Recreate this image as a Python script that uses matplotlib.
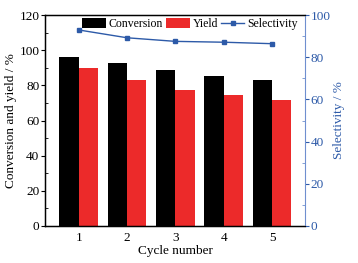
import matplotlib.pyplot as plt
import numpy as np

plt.rcParams['font.family'] = ['Liberation Serif', 'DejaVu Serif']
plt.rcParams['font.size'] = 9.5

# data
cycles = [1, 2, 3, 4, 5]
conversion = [96.3, 92.5, 88.5, 85.3, 83.0]
yield_pct = [89.7, 82.9, 77.2, 74.3, 71.7]
selectivity = [92.9, 89.2, 87.5, 87.1, 86.4]

blue = "#2d5aa8"
spine_blue = "#6f8fcf"

fig = plt.figure(figsize=(3.58, 2.63), dpi=100)
ax1 = fig.add_axes([45 / 358, 37 / 263, 260 / 358, 211 / 263])
ax2 = ax1.twinx()

x = np.array(cycles)
w = 0.4
b1 = ax1.bar(x - w / 2, conversion, w, color="black", label="Conversion")
b2 = ax1.bar(x + w / 2, yield_pct, w, color="#ec2a2a", label="Yield")
l1, = ax2.plot(x, selectivity, "-s", color=blue, markersize=3.5,
               linewidth=1.0, label="Selectivity")

ax1.set_xlim(0.3, 5.68)
ax1.set_ylim(0, 120)
ax2.set_ylim(0, 100)
ax1.set_xticks(cycles)
ax1.set_yticks(range(0, 121, 20))
ax1.set_yticks(range(10, 120, 20), minor=True)
ax2.set_yticks(range(0, 101, 20))
ax2.set_yticks(range(10, 100, 20), minor=True)

ax1.tick_params(axis="x", length=0, pad=4)
ax1.tick_params(axis="y", which="major", direction="out", length=3, pad=1)
ax1.tick_params(axis="y", which="minor", direction="in", length=2)
ax2.tick_params(axis="y", which="major", direction="out", length=3, pad=1,
                colors=blue)
ax2.tick_params(axis="y", which="minor", direction="in", length=2,
                colors=spine_blue)
ax2.spines["right"].set_color(spine_blue)
for s in ["left", "bottom", "top"]:
    ax1.spines[s].set_linewidth(1.0)
ax1.spines["right"].set_visible(False)

ax1.set_xlabel("Cycle number", labelpad=1)
ax1.set_ylabel("Conversion and yield / %", labelpad=2)
ax2.set_ylabel("Selectivity / %", color=blue, labelpad=2)

ax2.legend([b1, b2, l1], ["Conversion", "Yield", "Selectivity"],
           loc="upper right", bbox_to_anchor=(1.0, 1.02), ncol=3,
           frameon=False, handlelength=2.0, handleheight=1.0,
           handletextpad=0.25, columnspacing=0.25, borderaxespad=0.2,
           fontsize=8.5)

fig.savefig("out.png", dpi=100)
